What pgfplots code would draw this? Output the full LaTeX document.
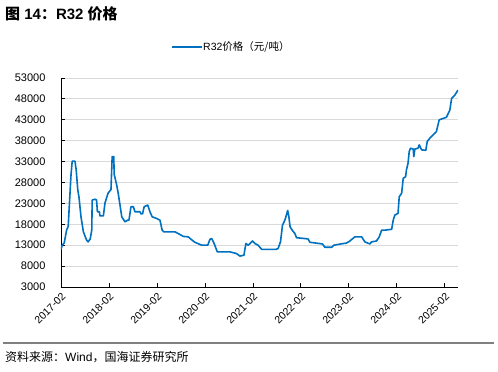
\documentclass[border=0pt]{standalone}
\usepackage{fontspec}
\setmainfont{Liberation Sans}
\newfontfamily\cjk{Noto Sans CJK SC}
\usepackage{pgfplots}
\pgfplotsset{compat=1.18}
\usetikzlibrary{calc}
\definecolor{lineblue}{RGB}{0,112,192}
\definecolor{gridgray}{RGB}{217,217,217}
\begin{document}
\begin{tikzpicture}[x=1pt,y=1pt]
\begin{axis}[
  scale only axis, width=397pt, height=209pt,
  xmin=0, xmax=99.3, ymin=3000, ymax=53000,
  ytick={3000,8000,...,53000},
  scaled y ticks=false,
  xtick={0,12,...,96},
  xticklabels={2017-02,2018-02,2019-02,2020-02,2021-02,2022-02,2023-02,2024-02,2025-02},
  axis x line*=bottom, axis y line*=left,
  axis line style={black,line width=0.8pt,-},
  tick style={black,line width=0.8pt},
  tick align=inside, major tick length=4pt,
  ymajorgrids, grid style={gridgray,line width=0.8pt},
  /pgf/number format/assume math mode=true,
  /pgf/number format/1000 sep={},
  yticklabel style={xshift=-12pt,font=\fontsize{11}{13}\selectfont},
  xticklabel style={rotate=45,anchor=north east,font=\fontsize{10.5}{12}\selectfont},
]
\addplot[lineblue,line width=1.6pt,line join=round] coordinates {
(0,12000) (0.3,13000) (0.8,13500) (1.4,16600) (1.8,17500) (2.25,25400) (2.5,29800) (2.8,33100) (3.5,33100) (3.8,31000) (4.2,26200) (4.5,24500) (5,19800) (5.6,16200) (6.4,14200) (6.8,13800) (7.3,14500) (7.7,16600) (7.8,23800) (8.5,24000) (8.9,23800) (9.1,21000) (9.6,21000) (9.75,20000) (10.6,20000) (11,23100) (11.8,25500) (12.5,26300) (12.8,34200) (13.2,34200) (13.3,30000) (13.9,27500) (14.3,25500) (15.2,19800) (16,18600) (16.7,19000) (17,19000) (17.5,22200) (18.1,22200) (18.5,21000) (19.75,21000) (20,20500) (20.4,20500) (20.8,22200) (21.7,22600) (22.25,21000) (22.8,19800) (23.9,19400) (24.75,19000) (25.3,16600) (25.7,16200) (28.5,16200) (29.3,15800) (30.6,15100) (31.8,15000) (32.8,14200) (33.5,13700) (35.2,13000) (36.7,13000) (37.25,14400) (37.7,14600) (38.3,13400) (39.1,11400) (42.25,11400) (43.9,11000) (44.75,10400) (45.75,10600) (46.25,13400) (46.8,13000) (47.3,13400) (47.9,14000) (48.5,13400) (49.3,13000) (50.2,12000) (53.75,12000) (54.3,12200) (54.9,13800) (55.4,17800) (56,19000) (56.25,19800) (56.7,21300) (57,19800) (57.3,17400) (57.9,16500) (58.5,15800) (58.9,14800) (61.8,14500) (62.25,13700) (65.4,13300) (66,12500) (67.7,12500) (68.25,13000) (70.6,13400) (71.4,13500) (72.25,14000) (73.5,15000) (75.2,15000) (76,13800) (77.25,13300) (77.7,13800) (78.9,14000) (79.6,15000) (80.2,16600) (81,16600) (82.7,16800) (83.1,19000) (83.5,20200) (84.3,20600) (84.6,24600) (85.2,25400) (85.6,29000) (86.2,29400) (86.4,31000) (86.8,32600) (87.1,35400) (87.4,36200) (88.1,36000) (88.25,34200) (88.5,36000) (89.3,36200) (89.6,37000) (90.2,35800) (91.25,35700) (91.6,37800) (92.25,38600) (93.1,39400) (93.9,40200) (94.6,43000) (96.4,43600) (97.25,45300) (97.7,48100) (98.5,48900) (99.3,50100)
};
\coordinate (ll) at (rel axis cs:0,0);
\end{axis}
\begin{scope}[shift={($(ll)+(-61pt,-85pt)$)}]
\path[use as bounding box] (0,0) rectangle (498,372);
\node[anchor=west,inner sep=0pt,font=\fontsize{15}{18}\selectfont\bfseries] at (5,358) {{\cjk\bfseries 图} 14{\cjk\bfseries ：}R32 {\cjk\bfseries 价格}};
\draw[lineblue,line width=2pt] (172,325) -- (202,325);
\node[anchor=west,inner sep=0pt,font=\fontsize{10.5}{12}\selectfont] at (203,325) {R32{\cjk 价格（元/吨）}};
\draw[gray,line width=1.2pt] (3,29) -- (494,29);
\node[anchor=west,inner sep=0pt,font=\fontsize{12}{14}\selectfont] at (5,15) {{\cjk 资料来源：}Wind{\cjk ，国海证券研究所}};
\end{scope}
\end{tikzpicture}
\end{document}
